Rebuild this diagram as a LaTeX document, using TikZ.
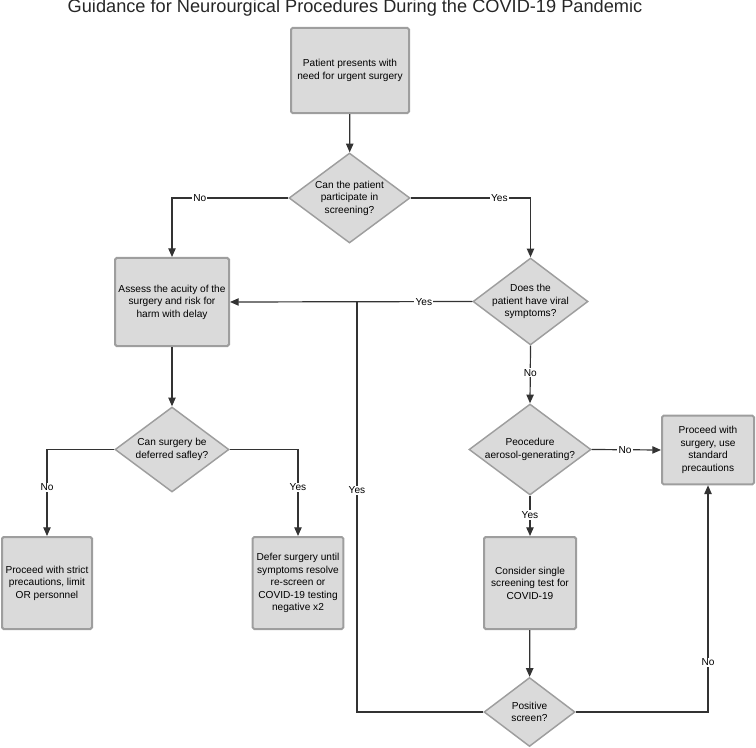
\documentclass[tikz,border=0pt]{standalone}
\usepackage{fontspec}
\setmainfont{Liberation Sans}
\usetikzlibrary{shapes.geometric,arrows.meta}

\definecolor{flowfill}{rgb}{0.855,0.855,0.855}
\definecolor{flowedge}{rgb}{0.62,0.62,0.62}
\definecolor{flowline}{rgb}{0.2,0.2,0.2}

\begin{document}
\begin{tikzpicture}[x=0.75pt,y=-0.75pt,
  stepbox/.style={draw=flowedge,fill=flowfill,line width=1.5pt,rounded corners=1.2pt,
    inner sep=1pt,align=center,font=\fontsize{7.6}{9.4}\selectfont},
  choice/.style={diamond,draw=flowedge,fill=flowfill,line width=1.1pt,inner sep=0pt},
  choicetext/.style={align=center,inner sep=0pt,font=\fontsize{7.6}{9.4}\selectfont},
  link/.style={draw=flowline,line width=0.9pt,-{Triangle[length=6.5pt,width=5.5pt]}},
  plain/.style={draw=flowline,line width=0.9pt},
  tag/.style={fill=white,inner sep=0.8pt,font=\fontsize{7.6}{9}\selectfont}]
\useasboundingbox (0,0) rectangle (756,748);
% title
\node[font=\fontsize{13.65}{15}\selectfont,text=black!85] (title) at (355,8) {Guidance for Neurourgical Procedures During the COVID-19 Pandemic};
% boxes
\node[stepbox,minimum width=88.5pt,minimum height=64pt] (start) at (350,70.5) {Patient presents with\\need for urgent surgery};
\node[stepbox,minimum width=85.5pt,minimum height=66pt] (assess) at (172,302) {Assess the acuity of the\\surgery and risk for\\harm with delay};
\node[stepbox,minimum width=67.5pt,minimum height=69pt] (strict) at (47,583) {Proceed with strict\\precautions, limit\\OR personnel};
\node[stepbox,minimum width=68pt,minimum height=69pt] (defer) at (298,583) {Defer surgery until\\symptoms resolve\\re-screen or\\COVID-19 testing\\negative x2};
\node[stepbox,minimum width=69pt,minimum height=51.5pt] (standard) at (708,450) {Proceed with\\surgery, use\\standard\\precautions};
\node[stepbox,minimum width=69pt,minimum height=69pt] (single) at (530,583) {Consider single\\screening test for\\COVID-19};
% decisions
\node[choice,minimum width=90.75pt,minimum height=67.5pt,
  label={[choicetext]center:Can the patient\\participate in\\screening?}] (screen) at (349.5,198) {};
\node[choice,minimum width=86.25pt,minimum height=65.25pt,
  label={[choicetext]center:Does the\\patient have viral\\symptoms?}] (viral) at (530.5,301.5) {};
\node[choice,minimum width=91.5pt,minimum height=68.25pt,
  label={[choicetext]center:Peocedure\\aerosol-generating?}] (aerosol) at (530,449.5) {};
\node[choice,minimum width=85.5pt,minimum height=63.75pt,
  label={[choicetext]center:Can surgery be\\deferred safley?}] (defquery) at (172,449.5) {};
\node[choice,minimum width=68.25pt,minimum height=51.75pt,
  label={[choicetext]center:Positive\\screen?}] (positive) at (529.5,712) {};
\coordinate (junction) at (357,301.5);
% connectors
\draw[link] (start) -- (screen);
\draw[link] (screen.west) -| node[tag,pos=0.38] {No} (assess.north);
\draw[link] (screen.east) -| node[tag,pos=0.37] {Yes} (viral.north);
\draw[link] (viral.west) -- node[tag,pos=0.2] {Yes} (assess.east);
\draw[link] (viral.south) -- node[tag,pos=0.47] {No} (aerosol.north);
\draw[link] (aerosol.east) -- node[tag,pos=0.48] {No} (standard.west);
\draw[link] (aerosol.south) -- node[tag,pos=0.48] {Yes} (single.north);
\draw[link] (single) -- (positive);
\draw[link] (positive.east) -| node[tag,pos=0.61] {No} (standard.south);
\draw[plain] (positive.west) -| node[tag,pos=0.77] {Yes} (junction);
\draw[link] (assess) -- (defquery);
\draw[link] (defquery.west) -| node[tag,pos=0.72] {No} (strict.north);
\draw[link] (defquery.east) -| node[tag,pos=0.72] {Yes} (defer.north);
\end{tikzpicture}
\end{document}
